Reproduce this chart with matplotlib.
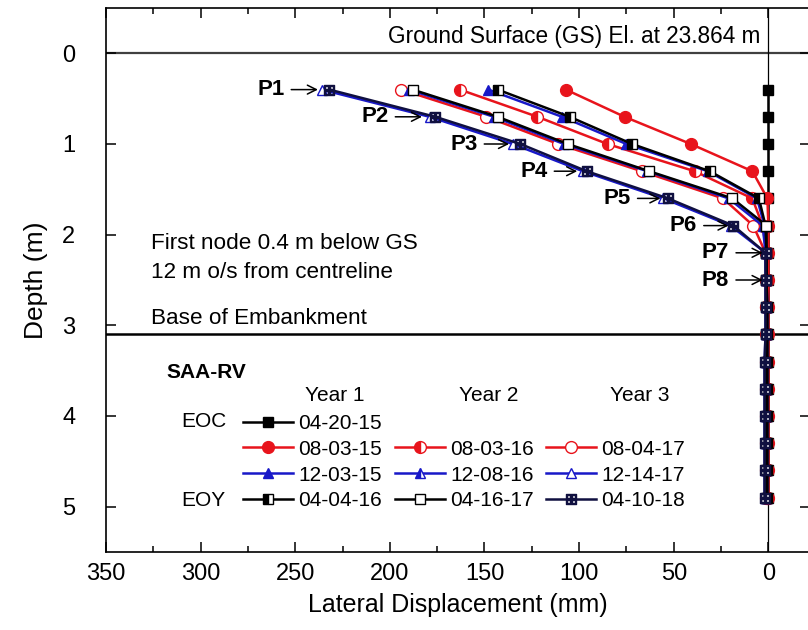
import matplotlib.pyplot as plt
from matplotlib.lines import Line2D

plt.rcParams['font.family'] = ['Liberation Sans', 'DejaVu Sans']

# node depths (m)
depth = [0.4, 0.7, 1.0, 1.3, 1.6, 1.9, 2.2, 2.5, 2.8, 3.1, 3.4, 3.7, 4.0, 4.3, 4.6, 4.9]

# lateral displacement (mm) per survey
d_042015 = [0, 0, 0, 0, 0, 0, 0, 0, 0, 0, 0, 0, 0, 0, 0, 0]
d_080315 = [107, 76, 41, 8.5, 0.5, 0, 0, 0, 0, 0, 0, 0, 0, 0, 0, 0]
d_080316 = [163, 122, 85, 39, 8.5, 3, 1, 1, 1, 0.5, 0.5, 0.5, 0.5, 0.5, 0.5, 0.5]
d_080417 = [194, 149, 111, 67, 24, 8, 1.5, 1, 1, 1, 1, 1, 1, 1, 1, 1]
d_120315 = [148, 109, 75, 32, 6, 2, 1, 1, 0.5, 0.5, 0.5, 0.5, 0.5, 0.5, 0.5, 0.5]
d_120816 = [190, 145, 108, 64, 21, 3, 1.5, 1, 1, 1, 1, 1, 1, 1, 1, 1]
d_121417 = [236, 179, 135, 98, 55.5, 20, 1.5, 1.5, 1.5, 1.5, 2, 2, 2, 2, 2, 2]
d_040416 = [143, 105, 72, 31, 5, 1.5, 1, 1, 0.5, 0.5, 0.5, 0.5, 0.5, 0.5, 0.5, 0.5]
d_041617 = [188, 143, 106, 63, 19, 1, 1, 1, 1, 1, 1, 1, 1, 1, 1, 1]
d_041018 = [232, 176, 131, 96, 53, 18.5, 1.5, 1.5, 1.5, 1.5, 2, 2, 2, 2, 2, 2]

# profile labels P1..P8
p_labels = ['P1', 'P2', 'P3', 'P4', 'P5', 'P6', 'P7', 'P8']
p_depth = [0.4, 0.7, 1.0, 1.3, 1.6, 1.9, 2.2, 2.5]
p_tip = [238, 183, 137, 101, 57, 21, 3, 3]
p_text = [263, 208, 161, 124, 80, 45, 28, 28]

RED = '#E8141C'
BLUE = '#1818C8'

fig = plt.figure(figsize=(8.08, 6.3), dpi=100)
ax = fig.add_axes([106 / 808, 1 - 552 / 630, (810 - 106) / 808, (552 - 8) / 630])

# reference lines
ax.axhline(0, color='#404040', lw=1.6, zorder=1)
ax.axhline(3.1, color='black', lw=1.8, zorder=1)
ax.axvline(0, color='black', lw=0.9, zorder=1)

LW = 1.8
common = dict(lw=LW, markersize=7, markeredgewidth=1.0)

h = {}
h['04-20-15'], = ax.plot(d_042015, depth, color='black', marker='s', markersize=6.5, lw=LW)
h['08-03-15'], = ax.plot(d_080315, depth, color=RED, marker='o', markersize=8.5, lw=LW)
h['08-03-16'], = ax.plot(d_080316, depth, color=RED, marker='o', fillstyle='left',
                         markerfacecoloralt='white', markersize=8.5, lw=LW)
h['08-04-17'], = ax.plot(d_080417, depth, color=RED, marker='o', markerfacecolor='white',
                         markersize=8.5, lw=LW)
h['12-03-15'], = ax.plot(d_120315, depth, color=BLUE, marker='^', **common)
h['12-08-16'], = ax.plot(d_120816, depth, color=BLUE, marker='^', fillstyle='left',
                         markerfacecoloralt='white', **common)
h['12-14-17'], = ax.plot(d_121417, depth, color=BLUE, marker='^', markerfacecolor='white', **common)
h['04-04-16'], = ax.plot(d_040416, depth, color='black', marker='s', fillstyle='left',
                         markerfacecoloralt='white', markersize=6.5, lw=LW)
h['04-16-17'], = ax.plot(d_041617, depth, color='black', marker='s', markerfacecolor='white',
                         markersize=6.5, lw=LW)
h['04-10-18'], = ax.plot(d_041018, depth, color='#101040', marker=r'$\boxplus$',
                         markersize=7, lw=LW)

# P labels with arrows
for lab, d, tip, tx in zip(p_labels, p_depth, p_tip, p_text):
    ax.annotate(lab, xy=(tip, d), xytext=(tx, d), ha='center', va='center',
                fontsize=16, fontweight='bold',
                arrowprops=dict(arrowstyle='->', lw=1.1, color='black',
                                shrinkA=3, shrinkB=0))

ax.text(4, -0.06, 'Ground Surface (GS) El. at 23.864 m', ha='right', va='bottom', fontsize=16.3)
ax.text(326, 2.10, 'First node 0.4 m below GS', ha='left', va='center', fontsize=16.2)
ax.text(326, 2.42, '12 m o/s from centreline', ha='left', va='center', fontsize=16.2)
ax.text(326, 2.93, 'Base of Embankment', ha='left', va='center', fontsize=16.2)

# legend block
ax.text(318, 3.52, 'SAA-RV', ha='left', va='center', fontsize=15, fontweight='bold')
for txt, xc in zip(['Year 1', 'Year 2', 'Year 3'], [229, 148, 68]):
    ax.text(xc, 3.77, txt, ha='center', va='center', fontsize=15)
ax.text(310, 4.06, 'EOC', ha='left', va='center', fontsize=15)
ax.text(310, 4.93, 'EOY', ha='left', va='center', fontsize=15)

blank = Line2D([], [], linestyle='none', marker='none')
order = ['04-20-15', '08-03-15', '12-03-15', '04-04-16',
         None, '08-03-16', '12-08-16', '04-16-17',
         None, '08-04-17', '12-14-17', '04-10-18']
handles = [h[k] if k else blank for k in order]
labels = [k if k else '' for k in order]
ax.legend(handles, labels, ncol=3, loc='upper left', bbox_to_anchor=(0.195, 0.254),
          frameon=False, fontsize=15, handlelength=2.4, handletextpad=0.25,
          columnspacing=0.6, labelspacing=0.33, borderpad=0, borderaxespad=0,
          numpoints=1)

ax.set_xlim(350, -22)
ax.set_ylim(5.5, -0.5)
ax.set_xticks([350, 300, 250, 200, 150, 100, 50, 0])
ax.set_xticks([325, 275, 225, 175, 125, 75, 25], minor=True)
ax.set_yticks([0, 1, 2, 3, 4, 5])
ax.tick_params(which='both', direction='in', top=True, right=True, width=1.1)
ax.tick_params(which='major', length=7, labelsize=17)
ax.tick_params(which='minor', length=4)
ax.tick_params(axis='x', pad=8)
ax.tick_params(axis='y', pad=22)
for s in ax.spines.values():
    s.set_linewidth(1.2)

ax.set_xlabel('Lateral Displacement (mm)', fontsize=18, labelpad=6)
ax.set_ylabel('Depth (m)', fontsize=19, labelpad=10)

fig.savefig('out.png', dpi=100)
